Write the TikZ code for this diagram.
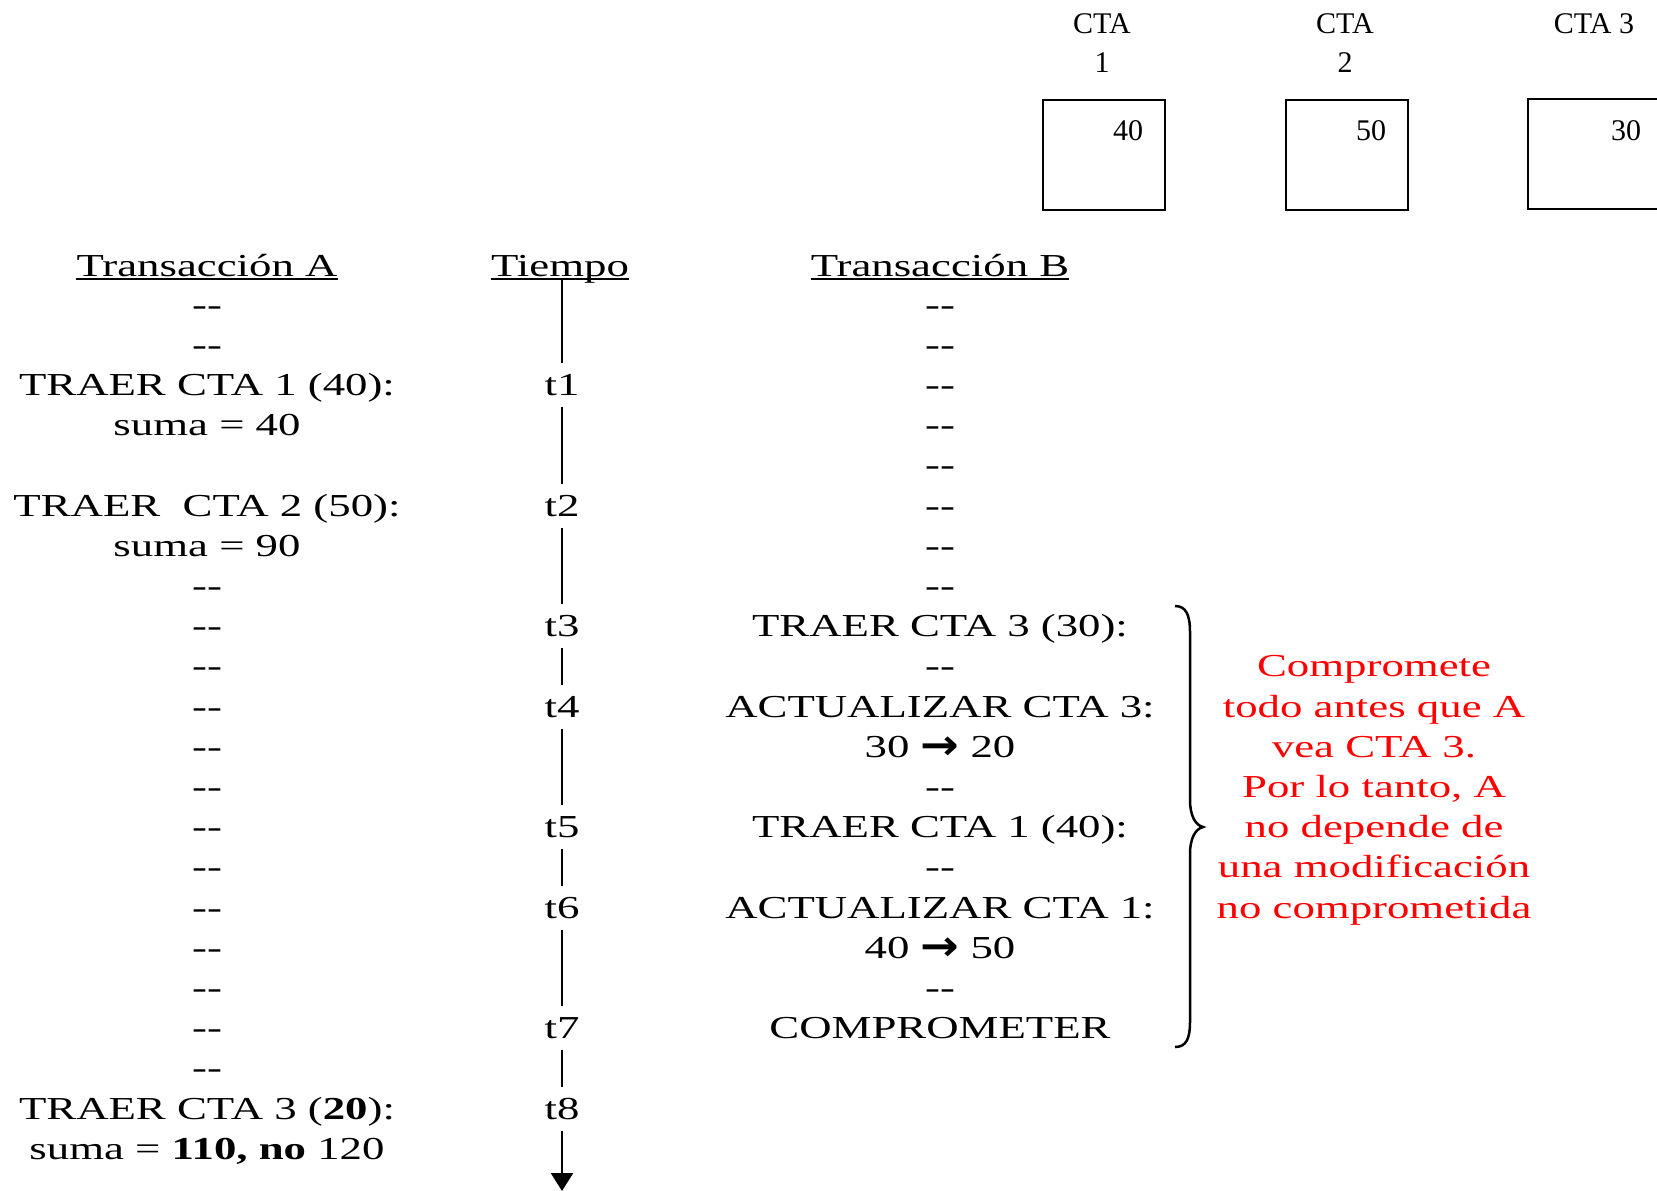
\documentclass[tikz,border=0pt]{standalone}
\usepackage{fontspec}
\setmainfont{Liberation Serif}
\newfontfamily\wide[FakeStretch=1.40]{Liberation Serif}
\newfontfamily\arrowfont[FakeStretch=1.1]{DejaVu Sans}
\usetikzlibrary{arrows.meta}
\newcommand\dsh{-\kern0pt-}
\newcommand\rarr{\raisebox{-2pt}{\arrowfont\bfseries\fontsize{42}{42}\selectfont →}}
\begin{document}
\begin{tikzpicture}[x=1pt,y=-1pt,
  rowtxt/.style={font=\wide\fontsize{32}{38}\selectfont, anchor=base, inner sep=0pt},
  toptxt/.style={font=\fontsize{30}{36}\selectfont, anchor=base, inner sep=0pt},
  tlab/.style={rowtxt, inner ysep=11pt},
  accbox/.style={draw, line width=2pt, minimum width=122pt, minimum height=110pt, anchor=north west, inner sep=0pt},
  tline/.style={line width=2.5pt},
  uline/.style={line width=2pt},
  note/.style={rowtxt, text=red}]
\useasboundingbox (0,0) rectangle (1657,1191);

% accounts
\node[toptxt] (c1a) at (1102,33) {CTA};
\node[toptxt] (c1b) at (1102,72) {1};
\node[toptxt] (c2a) at (1345,33) {CTA};
\node[toptxt] (c2b) at (1345,72) {2};
\node[toptxt] (c3a) at (1594,33) {CTA 3};
\node[accbox] (b1) at (1042,99) {};
\node[accbox] (b2) at (1285,99) {};
\draw[line width=2pt] (1657,99) -- (1528,99) -- (1528,209) -- (1657,209);
\node[toptxt] (v1) at (1128,140) {40};
\node[toptxt] (v2) at (1371,140) {50};
\node[toptxt] (v3) at (1626,140) {30};

% headers
\node[rowtxt] (hA) at (207,276) {Transacción A};
\node[rowtxt] (hT) at (560,276) {Tiempo};
\node[rowtxt] (hB) at (940,276) {Transacción B};
\foreach \h in {hA,hT,hB}
  \draw[uline] ([yshift=-3pt]\h.base west) -- ([yshift=-3pt]\h.base east);

% column A
\foreach \i in {0,1,7,8,...,19}
  \node[rowtxt] (a\i) at (207,{315+40.2*\i}) {\dsh};
\node[rowtxt] (a2) at (207,{315+40.2*2}) {TRAER CTA 1 (40):};
\node[rowtxt] (a3) at (207,{315+40.2*3}) {suma = 40};
\node[rowtxt] (a5) at (207,{315+40.2*5}) {TRAER\ \ CTA 2 (50):};
\node[rowtxt] (a6) at (207,{315+40.2*6}) {suma = 90};
\node[rowtxt] (a20) at (207,{315+40.2*20}) {TRAER CTA 3 (\textbf{20}):};
\node[rowtxt] (a21) at (207,{315+40.2*21}) {suma = \textbf{110, no} 120};

% column B
\foreach \i in {0,...,7,9,12,14,17}
  \node[rowtxt] (b\i) at (940,{315+40.2*\i}) {\dsh};
\node[rowtxt] (b8) at (940,{315+40.2*8}) {TRAER CTA 3 (30):};
\node[rowtxt] (b10) at (940,{315+40.2*10}) {ACTUALIZAR CTA 3:};
\node[rowtxt] (b11) at (940,{315+40.2*11}) {30 \rarr{} 20};
\node[rowtxt] (b13) at (940,{315+40.2*13}) {TRAER CTA 1 (40):};
\node[rowtxt] (b15) at (940,{315+40.2*15}) {ACTUALIZAR CTA 1:};
\node[rowtxt] (b16) at (940,{315+40.2*16}) {40 \rarr{} 50};
\node[rowtxt] (b18) at (940,{315+40.2*18}) {COMPROMETER};

% time axis
\coordinate (t0) at (562,279);
\foreach \n/\r in {1/2,2/5,3/8,4/10,5/13,6/15,7/18,8/20}
  \node[tlab] (t\n) at (562,{315+40.2*\r}) {t\n};
\coordinate (tend) at (562,1191);
\draw[tline] (t0) -- (t1);
\draw[tline] (t1) -- (t2);
\draw[tline] (t2) -- (t3);
\draw[tline] (t3) -- (t4);
\draw[tline] (t4) -- (t5);
\draw[tline] (t5) -- (t6);
\draw[tline] (t6) -- (t7);
\draw[tline] (t7) -- (t8);
\draw[tline, -{Triangle[width=22pt,length=18pt]}] (t8) -- (tend);

% brace
\draw[line width=2.5pt]
  (1175,606) .. controls (1186,606) and (1190,615) .. (1190,632)
  -- (1190,800) .. controls (1190,815) and (1195,825) .. (1203,827)
  .. controls (1195,829) and (1190,839) .. (1190,854)
  -- (1190,1022) .. controls (1190,1039) and (1186,1047) .. (1175,1047);

% note
\node[note] (n9) at (1374,{315+40.2*9}) {Compromete};
\node[note] (n10) at (1374,{315+40.2*10}) {todo antes que A};
\node[note] (n11) at (1374,{315+40.2*11}) {vea CTA 3.};
\node[note] (n12) at (1374,{315+40.2*12}) {Por lo tanto, A};
\node[note] (n13) at (1374,{315+40.2*13}) {no depende de};
\node[note] (n14) at (1374,{315+40.2*14}) {una modificación};
\node[note] (n15) at (1374,{315+40.2*15}) {no comprometida};
\end{tikzpicture}
\end{document}
